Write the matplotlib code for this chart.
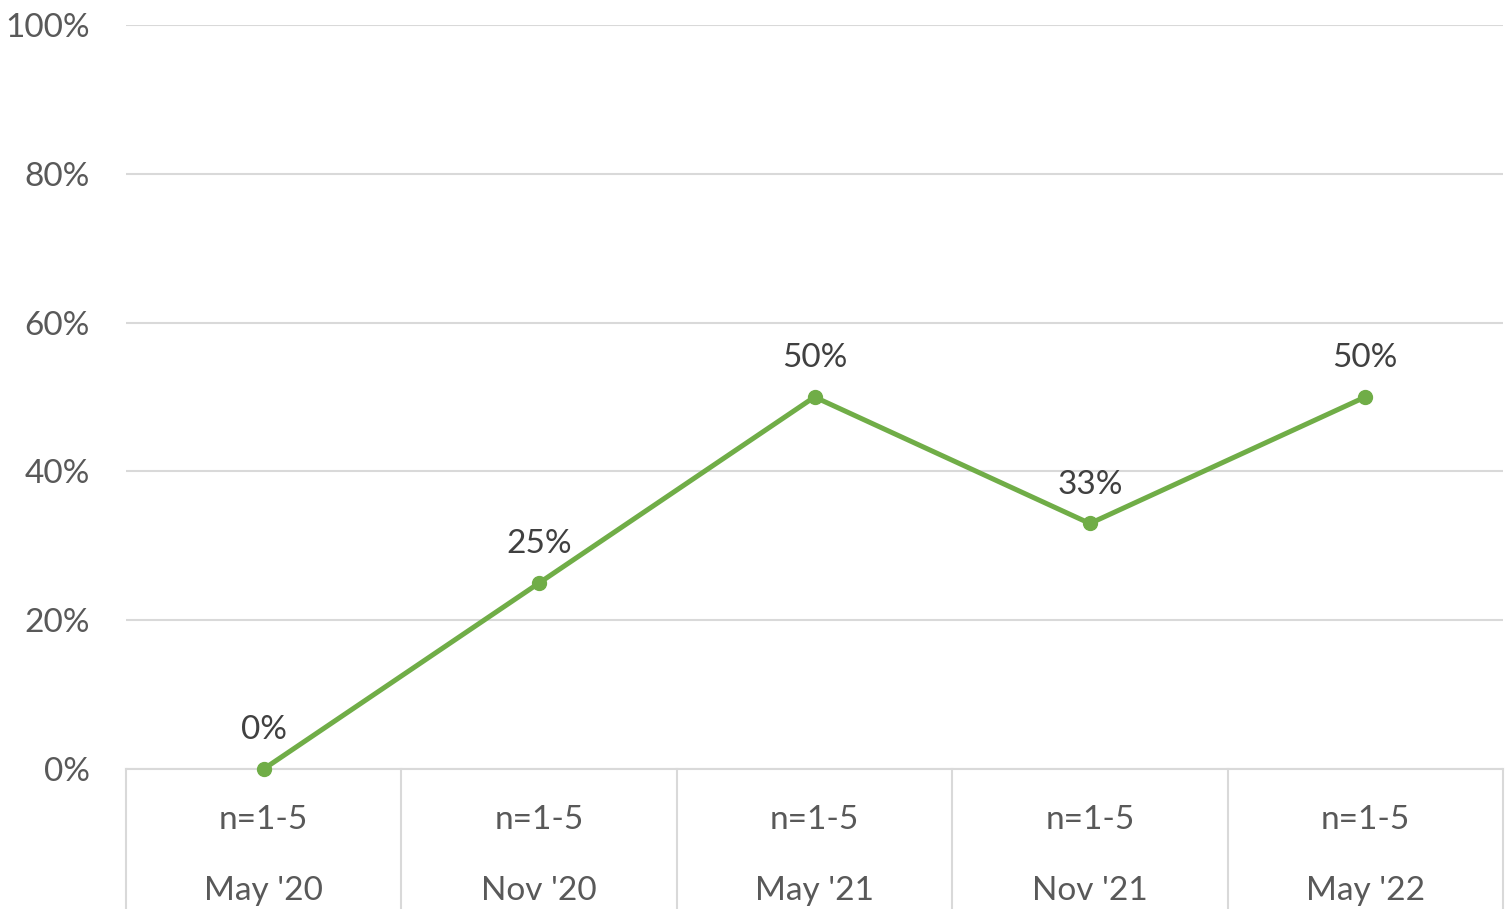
import numpy as np
import matplotlib
matplotlib.use("Agg")
import matplotlib.pyplot as plt
import matplotlib.transforms as mtransforms

plt.rcParams['font.family'] = ['Lato', 'DejaVu Sans']

# data
periods = ["May '20", "Nov '20", "May '21", "Nov '21", "May '22"]
sample_sizes = ["n=1-5", "n=1-5", "n=1-5", "n=1-5", "n=1-5"]
share = [0, 25, 50, 33, 50]

green = '#70AD47'
grid_col = '#D9D9D9'
fs = 24

fig = plt.figure(figsize=(15.12, 9.09), dpi=100)
ax = fig.add_axes([126 / 1512, 140 / 909, (1503 - 126) / 1512, 744 / 909])

x = np.arange(len(periods))
ax.plot(x, share, color=green, lw=3.6, marker='o', ms=10, zorder=3, clip_on=False)

for xi, v in zip(x, share):
    ax.annotate(f"{v}%", (xi, v), xytext=(0, 28), textcoords='offset points',
                ha='center', va='center', fontsize=fs, color='#404040')

ax.set_xlim(-0.5, len(periods) - 0.5)
ax.set_ylim(0, 100)
ax.set_yticks(range(0, 101, 20))
ax.set_yticklabels([f"{t}%" for t in range(0, 101, 20)], fontsize=fs, color='#595959')
ax.tick_params(axis='y', length=0, pad=26)
ax.set_xticks([])
ax.grid(axis='y', color=grid_col, lw=1.5)
ax.set_axisbelow(True)
for s in ['top', 'right', 'left']:
    ax.spines[s].set_visible(False)
ax.spines['bottom'].set_color(grid_col)
ax.spines['bottom'].set_linewidth(1.5)

# two-row category axis with separators
trans = mtransforms.blended_transform_factory(ax.transData, ax.transAxes)
for i in range(len(periods) + 1):
    ax.plot([i - 0.5, i - 0.5], [0, -0.2], color=grid_col, lw=1.5,
            transform=trans, clip_on=False)
for xi, n, p in zip(x, sample_sizes, periods):
    ax.text(xi, -51 / 744, n, transform=trans, ha='center', va='center',
            fontsize=fs, color='#595959')
    ax.text(xi, -122 / 744, p, transform=trans, ha='center', va='center',
            fontsize=fs, color='#595959')

fig.savefig('out.png', dpi=100, facecolor='white')
